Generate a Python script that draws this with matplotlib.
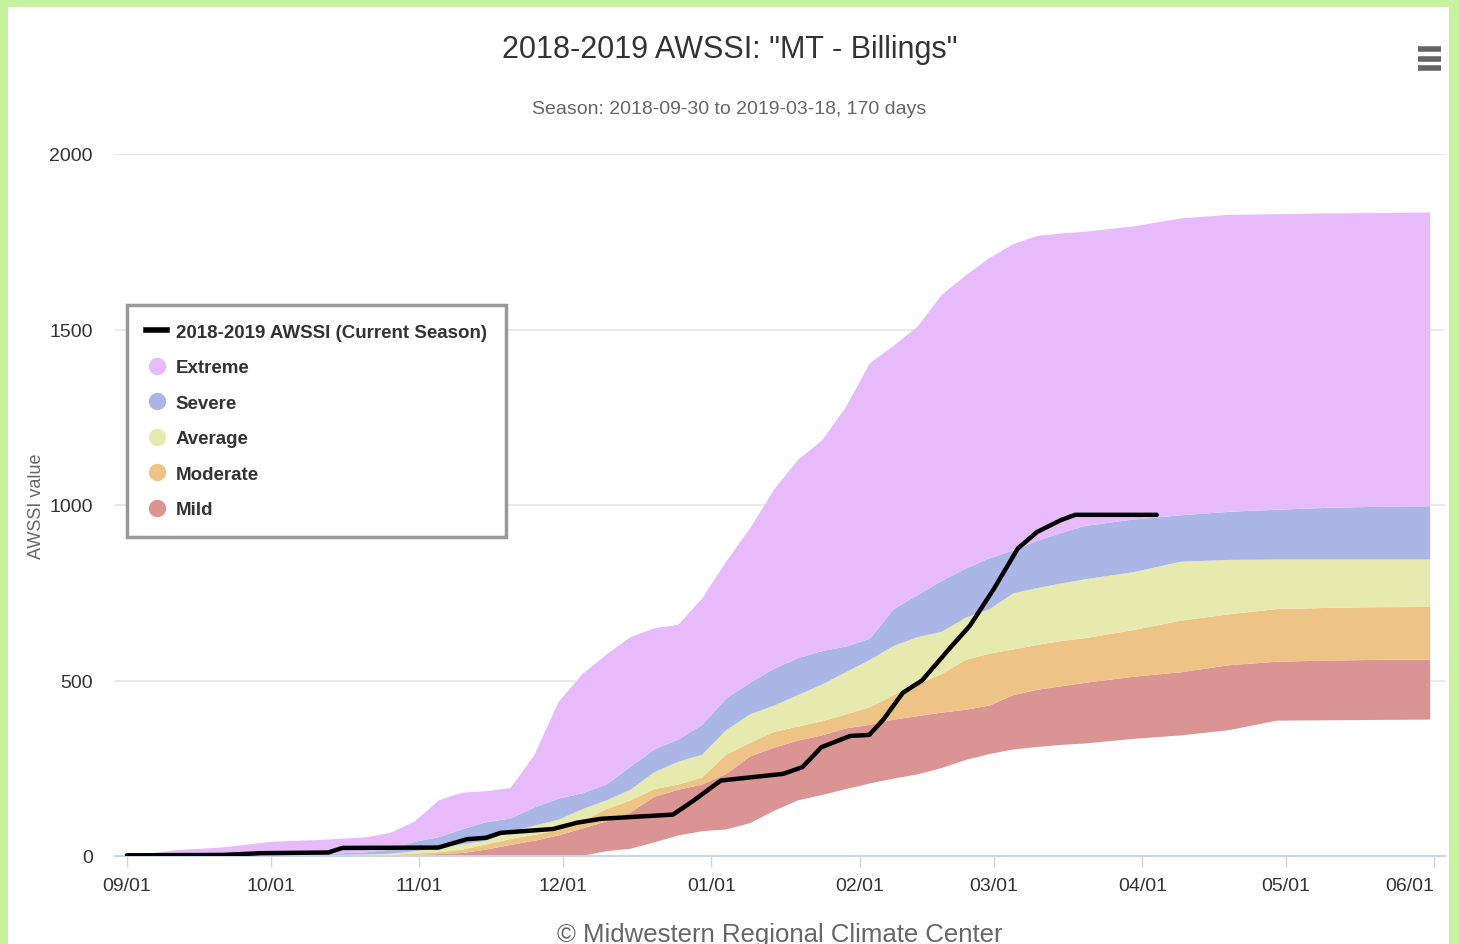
import matplotlib
matplotlib.use("Agg")
import matplotlib.pyplot as plt
from matplotlib.lines import Line2D
from matplotlib.patches import Rectangle

plt.rcParams["font.family"] = ["Liberation Sans", "DejaVu Sans"]

# days since Sep 1 (2018)
band_days = [0, 10, 20, 30, 40, 50, 55, 60, 65, 70, 75, 80, 85, 90, 95, 100,
             105, 110, 115, 120, 125, 130, 135, 140, 145, 150, 155, 160, 165,
             170, 175, 180, 185, 190, 195, 200, 210, 220, 230, 240, 250, 260, 272]

# band edges (AWSSI values)
mild_low = [0, 0, 0, 0, 0, 0, 0, 0, 0, 0, 0, 0, 0, 0, 2, 15,
            22, 40, 60, 72, 77, 95, 130, 160, 175, 192, 208, 222, 234,
            252, 275, 292, 305, 312, 318, 322, 335, 345, 360, 387, 388, 389, 390]
mild_high = [0, 0, 0, 1, 1, 2, 3, 4, 7, 10, 20, 33, 45, 60, 80, 100,
             125, 170, 190, 205, 235, 285, 310, 330, 345, 365, 375, 390, 400,
             410, 418, 430, 460, 475, 485, 495, 512, 525, 545, 555, 558, 560, 561]
moderate_high = [0, 0, 1, 2, 3, 4, 5, 8, 12, 20, 35, 50, 62, 75, 100, 135,
                 160, 192, 205, 225, 290, 324, 355, 370, 385, 405, 425, 460, 490,
                 520, 560, 578, 590, 603, 614, 622, 645, 672, 690, 705, 708, 710, 711]
average_high = [0, 1, 2, 3, 4, 6, 8, 15, 25, 35, 45, 70, 88, 105, 135, 160,
                190, 240, 270, 290, 360, 405, 430, 460, 490, 525, 560, 600, 625,
                640, 680, 705, 750, 765, 778, 790, 810, 840, 845, 846, 846, 846, 846]
severe_high = [0, 2, 3, 5, 7, 12, 20, 42, 55, 78, 98, 108, 140, 165, 180, 205,
               255, 305, 333, 375, 450, 495, 535, 565, 585, 598, 620, 705, 745,
               785, 820, 850, 872, 900, 922, 942, 960, 972, 982, 988, 993, 996, 998]
extreme_high = [0, 18, 26, 42, 47, 55, 68, 100, 160, 182, 186, 195, 290, 440, 520, 575,
                625, 650, 660, 735, 840, 935, 1045, 1130, 1185, 1280, 1405, 1455, 1510,
                1600, 1655, 1705, 1745, 1768, 1775, 1780, 1795, 1818, 1828, 1830, 1832, 1833, 1835]

# current season
season_days = [0, 20, 28, 42, 45, 65, 71, 75, 78, 89, 94, 99, 114, 118, 121, 124,
               137, 141, 145, 151, 155, 158, 162, 166, 172, 176, 181, 186, 190, 195, 198, 215]
season_vals = [2, 3, 8, 10, 23, 24, 48, 52, 66, 77, 95, 106, 118, 155, 185, 215,
               234, 253, 310, 342, 345, 390, 465, 500, 595, 656, 761, 876, 923, 957, 972, 972]

month_days = [0, 30, 61, 91, 122, 153, 181, 212, 242, 273]
month_labels = ["09/01", "10/01", "11/01", "12/01", "01/01", "02/01", "03/01", "04/01", "05/01", "06/01"]

colors = {
    "Extreme": "#e7bbfb",
    "Severe": "#a9b6e6",
    "Average": "#e6eaaf",
    "Moderate": "#edc485",
    "Mild": "#db9494",
}

fig = plt.figure(figsize=(14.59, 9.45), dpi=100, facecolor="#c5f29b")
fig.patches.append(Rectangle((8 / 1459, 0), 1441 / 1459, 937 / 945,
                             transform=fig.transFigure, facecolor="white",
                             edgecolor="none", zorder=-5))

ax = fig.add_axes([115 / 1459, 88 / 945, 1330 / 1459, 702 / 945])
ax.set_facecolor("none")

ax.fill_between(band_days, mild_low, mild_high, color=colors["Mild"], lw=0, zorder=2)
ax.fill_between(band_days, mild_high, moderate_high, color=colors["Moderate"], lw=0, zorder=2)
ax.fill_between(band_days, moderate_high, average_high, color=colors["Average"], lw=0, zorder=2)
ax.fill_between(band_days, average_high, severe_high, color=colors["Severe"], lw=0, zorder=2)
ax.fill_between(band_days, severe_high, extreme_high, color=colors["Extreme"], lw=0, zorder=2)
ax.plot(season_days, season_vals, color="black", lw=3.2, solid_capstyle="round",
        solid_joinstyle="round", zorder=4)

ax.set_xlim(-2.5, 275.2)
ax.set_ylim(0, 2000)
ax.set_yticks([0, 500, 1000, 1500, 2000])
ax.set_xticks(month_days)
ax.set_xticklabels(month_labels)
ax.get_xticklabels()[-1].set_horizontalalignment("right")
for v in [500, 1000, 1500, 2000]:
    ax.axhline(v, color="#e6e6e6", lw=1.2, zorder=1)
for s in ["top", "right", "left"]:
    ax.spines[s].set_visible(False)
ax.spines["bottom"].set_color("#ccd6eb")
ax.spines["bottom"].set_linewidth(1.5)
ax.spines["bottom"].set_zorder(3)
ax.tick_params(axis="x", length=8, width=1, color="#ccd6eb", labelsize=14,
               labelcolor="#333333", pad=7)
ax.tick_params(axis="y", length=0, labelsize=14, labelcolor="#333333", pad=16)

ax.set_ylabel("AWSSI value", fontsize=13, color="#666666")
ax.yaxis.set_label_coords(-0.053, 0.5)

fig.text(0.5, 1 - 50 / 945, '2018-2019 AWSSI: "MT - Billings"', ha="center", va="center",
         fontsize=22, color="#333333")
fig.text(0.5, 1 - 110 / 945, "Season: 2018-09-30 to 2019-03-18, 170 days", ha="center",
         va="center", fontsize=14, color="#666666")
fig.text(780 / 1459, 1 - 935 / 945, "\u00a9 Midwestern Regional Climate Center", ha="center",
         va="center", fontsize=18.5, color="#666666")

# menu icon
for yy in [50, 60, 69]:
    fig.add_artist(Line2D([1418 / 1459, 1441 / 1459], [1 - yy / 945, 1 - yy / 945],
                          transform=fig.transFigure, color="#666666", lw=4,
                          solid_capstyle="butt"))

handles = [Line2D([], [], color="black", lw=4)]
labels = ["2018-2019 AWSSI (Current Season)"]
for name in ["Extreme", "Severe", "Average", "Moderate", "Mild"]:
    handles.append(Line2D([], [], ls="none", marker="o", markersize=12.5,
                          markerfacecolor=colors[name], markeredgecolor="none"))
    labels.append(name)
leg = fig.legend(handles, labels, loc="upper left",
                 bbox_to_anchor=(127 / 1459, 1 - 306 / 945), borderaxespad=0,
                 fancybox=False, framealpha=1, edgecolor="#999999",
                 prop={"size": 13.5, "weight": "bold"}, labelcolor="#333333",
                 handlelength=1.15, handletextpad=0.45, labelspacing=0.98,
                 borderpad=1.0)
leg.get_frame().set_linewidth(2.5)

fig.savefig("out.png", dpi=100, facecolor=fig.get_facecolor())
